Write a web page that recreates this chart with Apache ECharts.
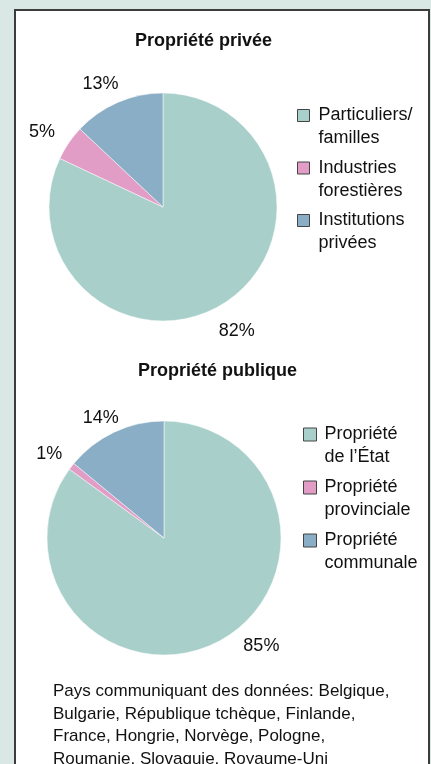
<!DOCTYPE html>
<html>
<head>
<meta charset="utf-8">
<script src="https://cdn.jsdelivr.net/npm/echarts@6/dist/echarts.min.js"></script>
<style>
  html, body { margin: 0; padding: 0; background: #d9e8e5; }
  #chart { width: 431px; height: 764px; }
</style>
</head>
<body>
<div id="chart"></div>
<script>
// Propriété privée
var privateNames = ['Particuliers/\nfamilles', 'Industries\nforestières', 'Institutions\nprivées']
var privateValues = [82, 5, 13]
// Propriété publique
var publicNames = ['Propriété\nde l’État', 'Propriété\nprovinciale', 'Propriété\ncommunale']
var publicValues = [85, 1, 14]

var sliceColors = ['#a8cfca', '#e19dc6', '#8aaec6']
var footNote = 'Pays communiquant des données: Belgique,\nBulgarie, République tchèque, Finlande,\nFrance, Hongrie, Norvège, Pologne,\nRoumanie, Slovaquie, Royaume-Uni'

var font = 'Liberation Sans, Arial, Helvetica, sans-serif'

function pieData(names, values) {
  return names.map(function (n, i) {
    return { name: n, value: values[i], itemStyle: { color: sliceColors[i] } }
  })
}

// invisible ring that only carries the percentage labels
function labelRing(names, values, center, radius, offsets) {
  return {
    type: 'pie',
    silent: true,
    startAngle: 90,
    clockwise: true,
    center: center,
    radius: radius,
    itemStyle: { color: 'transparent' },
    emphasis: { disabled: true },
    label: {
      show: true,
      position: 'inside',
      formatter: '{c}%',
      fontFamily: font,
      fontSize: 18,
      color: '#111'
    },
    labelLine: { show: false },
    data: names.map(function (n, i) {
      return { name: n, value: values[i], label: { offset: offsets[i] } }
    })
  }
}

function mainPie(names, values, center, radius) {
  return {
    type: 'pie',
    startAngle: 90,
    clockwise: true,
    center: center,
    radius: radius,
    itemStyle: { borderColor: '#ffffff', borderWidth: 0.5 },
    label: { show: false },
    labelLine: { show: false },
    emphasis: { scale: false },
    data: pieData(names, values)
  }
}

function legendFor(names, left, top, size, gap, padLeft) {
  return {
    orient: 'vertical',
    left: left,
    top: top,
    padding: 0,
    itemGap: gap,
    itemWidth: size,
    itemHeight: size,
    icon: 'rect',
    itemStyle: { borderColor: '#444', borderWidth: 1 },
    // empty first line so the square sits beside the first text line
    formatter: function (name) { return '\n' + name },
    textStyle: {
      fontFamily: font,
      fontSize: 18,
      lineHeight: 23,
      color: '#111',
      padding: [0, 0, 0, padLeft]
    },
    selectedMode: false,
    data: names
  }
}

var chart = echarts.init(document.getElementById('chart'))
chart.setOption({
  backgroundColor: '#d9e8e5',
  animation: false,
  graphic: [{
    type: 'rect',
    z: -10,
    shape: { x: 15, y: 10, width: 414, height: 790 },
    style: { fill: '#ffffff', stroke: '#3c3c3c', lineWidth: 2 }
  }],
  title: [
    {
      text: 'Propriété privée',
      left: 135,
      top: 32,
      padding: 0,
      textStyle: { fontFamily: font, fontSize: 18, fontWeight: 'bold', color: '#111' }
    },
    {
      text: 'Propriété publique',
      left: 138,
      top: 362,
      padding: 0,
      textStyle: { fontFamily: font, fontSize: 18, fontWeight: 'bold', color: '#111' }
    },
    {
      text: footNote,
      left: 53,
      top: 680,
      padding: 0,
      textStyle: { fontFamily: font, fontSize: 17, fontWeight: 'normal', lineHeight: 22.7, color: '#111' }
    }
  ],
  legend: [
    legendFor(privateNames, 297, 81, 12, -16.5, 4),
    legendFor(publicNames, 303, 400, 13, -16, 3)
  ],
  series: [
    mainPie(privateNames, privateValues, [163, 207], 114),
    mainPie(publicNames, publicValues, [164, 538], 117),
    labelRing(privateNames, privateValues, [163, 207], [120, 164], [[-4, 2], [-1, 7], [-5, 10]]),
    labelRing(publicNames, publicValues, [164, 538], [120, 162], [[32, -20], [-1, 4], [-2, 10]])
  ]
})
</script>
</body>
</html>
